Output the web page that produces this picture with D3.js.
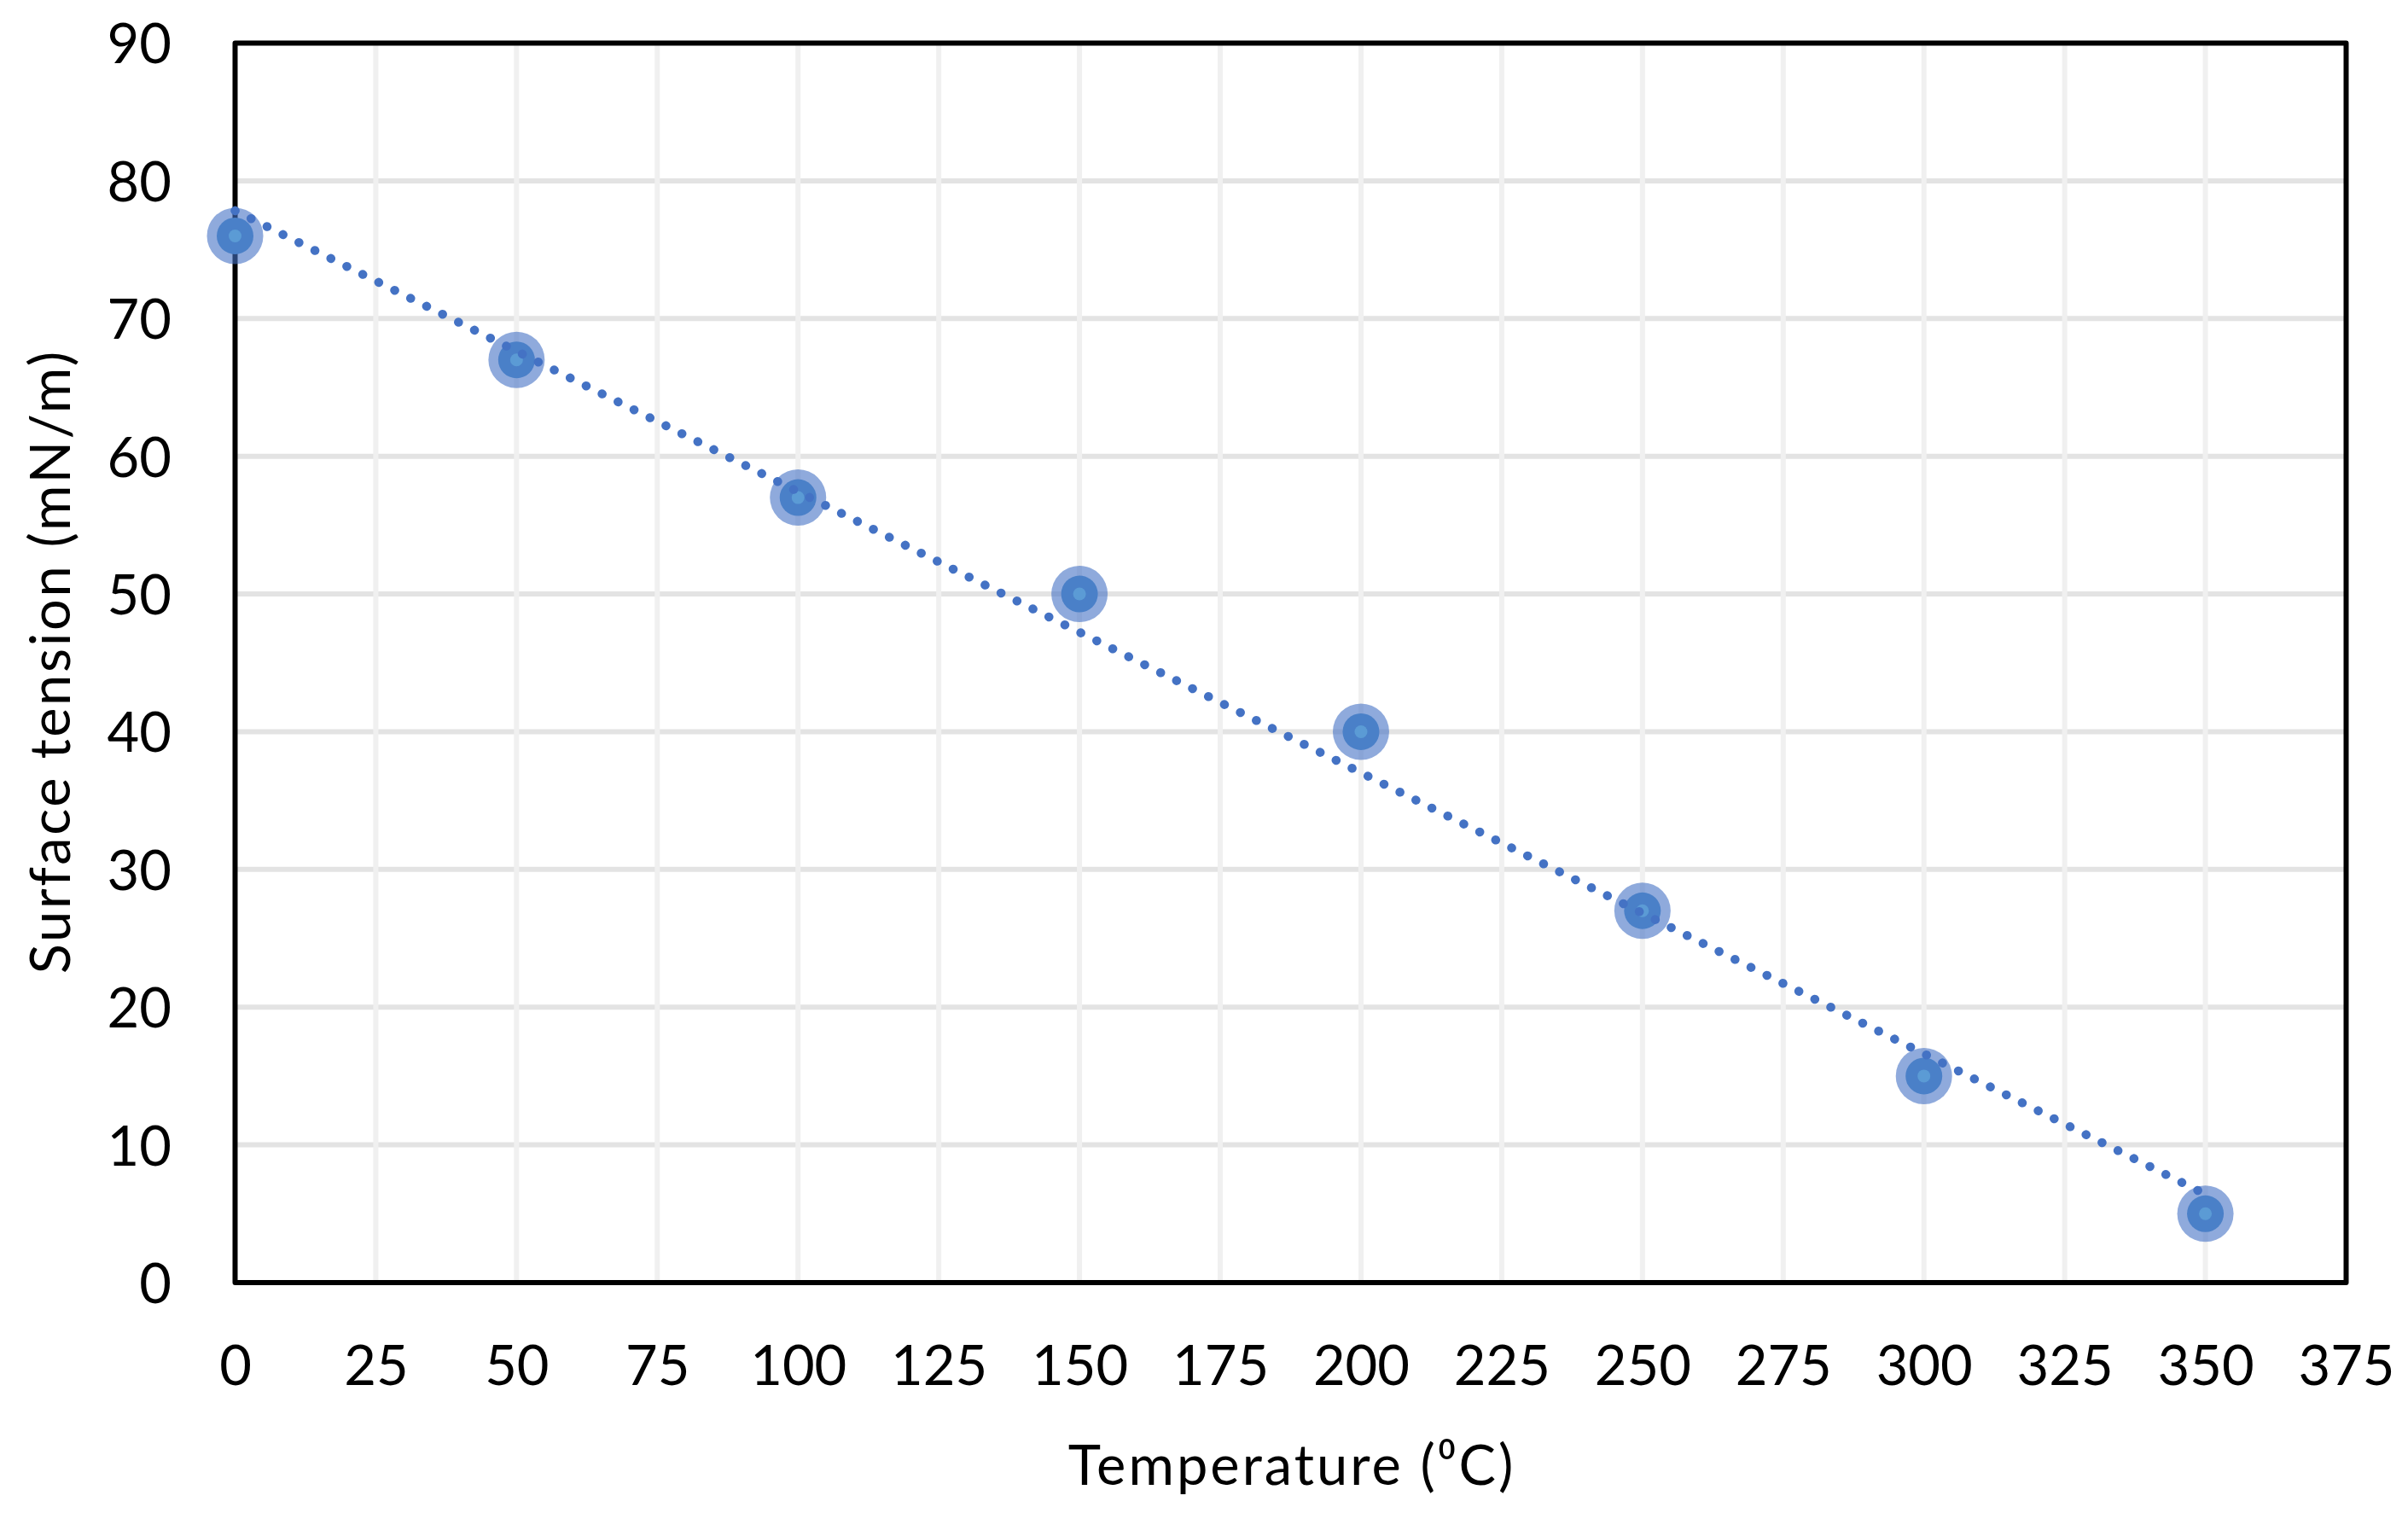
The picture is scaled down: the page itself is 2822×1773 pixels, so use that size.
<!DOCTYPE html>
<html>
<head>
<meta charset="utf-8">
<script src="https://cdn.jsdelivr.net/npm/d3@7"></script>
<style>
  html, body { margin: 0; padding: 0; background: #fff; }
  svg { display: block; }
  text { font-family: Lato, "Open Sans", sans-serif; fill: #000; }
</style>
</head>
<body>
<svg id="chart" width="2822" height="1773"></svg>
<script>
// ---- data ----
const temperatures = [0, 50, 100, 150, 200, 250, 300, 350];
const surfaceTension = [76, 67, 57, 50, 40, 27, 15, 5];
const xTickValues = [0, 25, 50, 75, 100, 125, 150, 175, 200, 225, 250, 275, 300, 325, 350, 375];
const yTickValues = [0, 10, 20, 30, 40, 50, 60, 70, 80, 90];
const xTitle = "Temperature (\u2070C)";
const yTitle = "Surface tension (mN/m)";

// ---- layout ----
const plotL = 275.5, plotR = 2749.5, plotT = 50.5, plotB = 1503;

const svg = d3.select("#chart");
const x = d3.scaleLinear().domain([0, 375]).range([plotL, plotR]);
const y = d3.scaleLinear().domain([0, 90]).range([plotB, plotT]);

// gridlines
const grid = svg.append("g");
grid.selectAll("line.h").data(yTickValues.filter(v => v > 0 && v < 90)).enter()
  .append("line").attr("class", "h")
  .attr("x1", plotL).attr("x2", plotR)
  .attr("y1", d => y(d)).attr("y2", d => y(d))
  .attr("stroke", "#e3e3e3").attr("stroke-width", 6);
grid.selectAll("line.v").data(xTickValues.filter(v => v > 0 && v < 375)).enter()
  .append("line").attr("class", "v")
  .attr("y1", plotT).attr("y2", plotB)
  .attr("x1", d => x(d)).attr("x2", d => x(d))
  .attr("stroke", "#f0f0f0").attr("stroke-width", 6);

// frame
svg.append("rect")
  .attr("x", plotL).attr("y", plotT)
  .attr("width", plotR - plotL).attr("height", plotB - plotT)
  .attr("fill", "none").attr("stroke", "#000").attr("stroke-width", 6)
  .attr("stroke-linejoin", "round");

// axes (labels only)
const xAxis = d3.axisBottom(x).tickValues(xTickValues).tickSize(0).tickFormat(d3.format("d"));
const gx = svg.append("g").attr("transform", `translate(0,${plotB})`).call(xAxis);
gx.select(".domain").remove();
gx.selectAll("text")
  .attr("y", 120).attr("dy", 0)
  .style("font-size", "65px").style("font-family", "Lato, 'Open Sans', sans-serif").attr("fill", "#000");

const yAxis = d3.axisLeft(y).tickValues(yTickValues).tickSize(0).tickFormat(d3.format("d"));
const gy = svg.append("g").attr("transform", `translate(${plotL},0)`).call(yAxis);
gy.select(".domain").remove();
gy.selectAll("text")
  .attr("x", -74.5).attr("dy", "0.36em")
  .style("font-size", "65px").style("font-family", "Lato, 'Open Sans', sans-serif").attr("fill", "#000");

// titles
svg.append("text")
  .attr("x", (plotL + plotR) / 2 + 1.5).attr("y", 1740)
  .attr("text-anchor", "middle")
  .style("font-size", "65px").style("letter-spacing", "3px")
  .text(xTitle);
svg.append("text")
  .attr("transform", `translate(82,${(plotT + plotB) / 2 - 1.5}) rotate(-90)`)
  .attr("text-anchor", "middle")
  .style("font-size", "65px").style("letter-spacing", "2.6px")
  .text(yTitle);

// markers
const pts = temperatures.map((t, i) => ({ t, v: surfaceTension[i] }));
const mk = svg.append("g");
mk.selectAll("circle.outer").data(pts).enter().append("circle").attr("class", "outer")
  .attr("cx", d => x(d.t)).attr("cy", d => y(d.v)).attr("r", 33)
  .attr("fill", "#4472c4").attr("fill-opacity", 0.6);
mk.selectAll("circle.mid").data(pts).enter().append("circle").attr("class", "mid")
  .attr("cx", d => x(d.t)).attr("cy", d => y(d.v)).attr("r", 21.5)
  .attr("fill", "#4a80c8");
mk.selectAll("circle.inner").data(pts).enter().append("circle").attr("class", "inner")
  .attr("cx", d => x(d.t)).attr("cy", d => y(d.v)).attr("r", 7.5)
  .attr("fill", "#5b9bd5");

// linear trendline (least squares fit of the data)
const mx = d3.mean(temperatures), my = d3.mean(surfaceTension);
const sxy = d3.sum(temperatures, (t, i) => (t - mx) * (surfaceTension[i] - my));
const sxx = d3.sum(temperatures, t => (t - mx) * (t - mx));
const slope = sxy / sxx, intercept = my - slope * mx;
const tMin = d3.min(temperatures), tMax = d3.max(temperatures);
const trend = [{ t: tMin, v: intercept + slope * tMin }, { t: tMax, v: intercept + slope * tMax }];
svg.append("path")
  .datum(trend)
  .attr("d", d3.line().x(d => x(d.t)).y(d => y(d.v)))
  .attr("fill", "none").attr("stroke", "#4472c4").attr("stroke-width", 10.5)
  .attr("stroke-linecap", "round").attr("stroke-dasharray", "0.1 20.8");
</script>
</body>
</html>
